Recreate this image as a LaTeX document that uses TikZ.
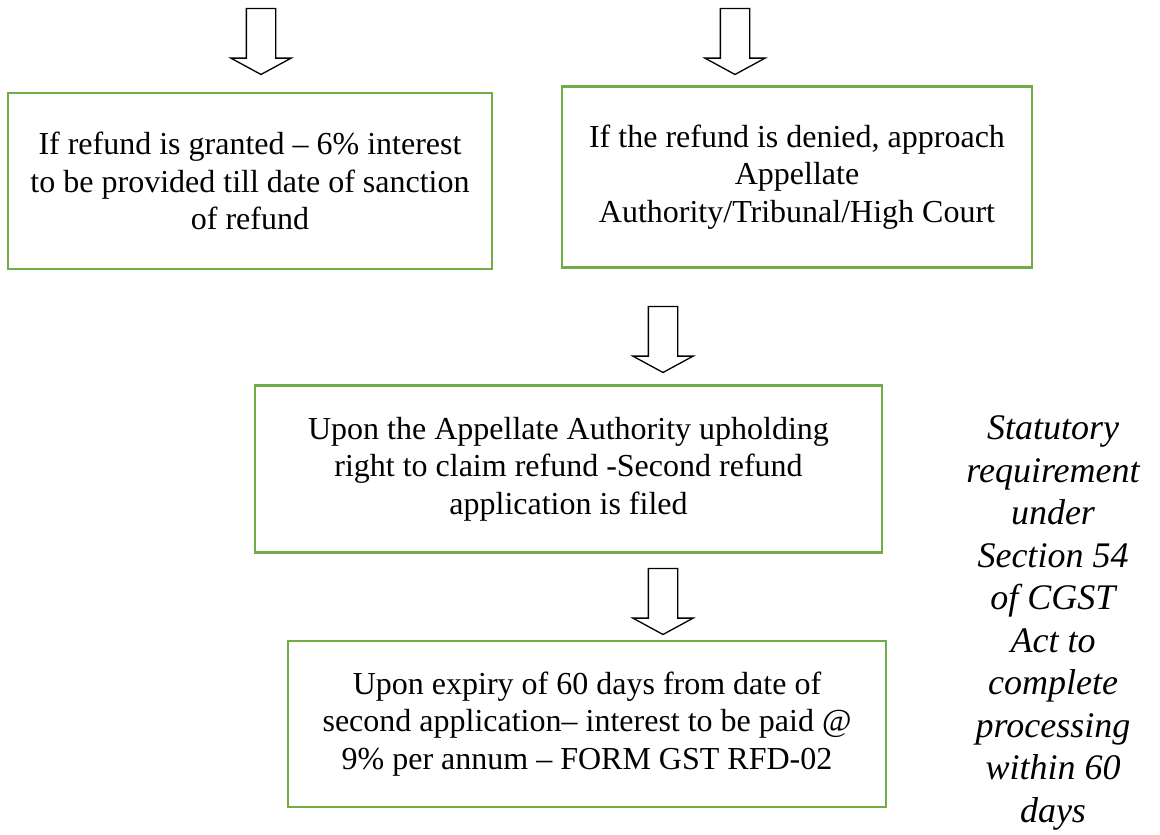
\documentclass[tikz,border=0pt]{standalone}
\usepackage{fontspec}
\setmainfont{Liberation Serif}
\usetikzlibrary{shapes.arrows,positioning}
\definecolor{boxgreen}{RGB}{112,173,71}

\tikzset{
  stagebox/.style={draw=boxgreen, line width=2.8pt, fill=white, align=center,
    font=\fontsize{32}{37.5}\selectfont, inner sep=0pt},
  downarrow/.style={draw=black, line width=1.3pt, fill=white, shape=single arrow,
    rotate=-90, minimum height=66pt, minimum width=59pt, inner xsep=0pt, inner ysep=14pt,
    single arrow head extend=15.5pt, single arrow tip angle=123}
}

\begin{document}
\begin{tikzpicture}[x=1pt,y=-1pt]
    \useasboundingbox (0,0) rectangle (1160,835);

    % arrows coming from above
    \node[downarrow] (arrGrant) at (261,37.5) {};
    \node[downarrow] (arrDeny) at (735,37.5) {};

    % first outcomes
    \node[stagebox, minimum width=484pt, minimum height=176pt] (granted) at (250,181)
        {If refund is granted -- 6\% interest\\to be provided till date of sanction\\of refund};
    \node[stagebox, minimum width=470pt, minimum height=181pt] (denied) at (797,177)
        {If the refund is denied, approach\\Appellate\\Authority/Tribunal/High Court};

    \node[downarrow] (arrAppeal) at (663,335.5) {};

    \node[stagebox, minimum width=627pt, minimum height=167pt] (upheld) at (568.5,469)
        {Upon the Appellate Authority upholding\\right to claim refund -Second refund\\application is filed};

    \node[downarrow] (arrExpiry) at (663,597.5) {};

    \node[stagebox, minimum width=598pt, minimum height=166pt] (expiry) at (587,724)
        {Upon expiry of 60 days from date of\\second application-- interest to be paid @\\9\% per annum -- FORM GST RFD-02};

    % side note
    \node[align=center, font=\fontsize{36}{42.5}\selectfont\itshape] (statute) at (1053,623)
        {Statutory\\requirement\\under\\Section 54\\of CGST\\Act to\\complete\\processing\\within 60\\days};
\end{tikzpicture}
\end{document}
